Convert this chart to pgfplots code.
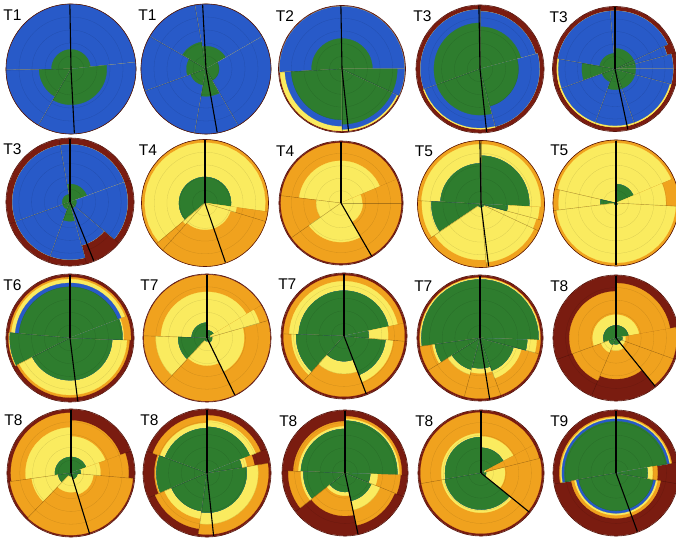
\documentclass[border=0pt]{standalone}
\usepackage{pgfplots}
\pgfplotsset{compat=1.18}
\usepgfplotslibrary{polar}
\usepackage{fontspec}
\setmainfont{Liberation Sans}
\definecolor{cG}{RGB}{46,125,46}
\definecolor{cB}{RGB}{40,90,200}
\definecolor{cY}{RGB}{250,235,95}
\definecolor{cO}{RGB}{240,162,30}
\definecolor{cR}{RGB}{122,28,16}
\newcommand\wdg[4]{\addplot[draw=#4,line width=0.25pt,fill=#4,domain=#1:#2,samples=25] {#3} -- (axis cs:0,0) -- cycle;}
\newcommand\sect[6]{\wdg{#1}{#2}{#6}{cO}\wdg{#1}{#2}{#5}{cY}\wdg{#1}{#2}{#4}{cB}\wdg{#1}{#2}{#3}{cG}%
\addplot[black,opacity=0.28,line width=0.4pt] coordinates {(#1,0) (#1,1)};}
\newcommand\hand[1]{\addplot[black,line width=1.1pt] coordinates {(#1,0) (#1,0.99)};}
\pgfplotsset{rosestyle/.style={anchor=center, scale only axis, xmin=0,xmax=360,ymin=0,ymax=1,
  xtick=\empty, ytick={0.2,0.4,0.6,0.8}, yticklabels={}, ymajorgrids, major tick length=0,
  major grid style={black,opacity=0.12,line width=0.3pt}, axis on top,
  separate axis lines,
  x axis line style={draw=cR!70!black,line width=0.6pt},
  y axis line style={draw=none}, clip=false}}
\newcommand\rose[5]{%
\begin{polaraxis}[rosestyle, at={(#1pt,540pt-#2pt)}, width=#3pt, height=#3pt]
\wdg{0}{360}{1}{cR}
#5
\node[font=\fontsize{15.5}{18}\selectfont] at (axis description cs:0.05,0.915) {#4};
\end{polaraxis}}
\begin{document}
\begin{tikzpicture}
\useasboundingbox (0,0) rectangle (676pt,540pt);
% ---------- row 1
\rose{71}{69}{130}{T1}{%
\sect{6}{181}{.30}{1}{1}{1}
\sect{181}{240}{.49}{1}{1}{1}
\sect{240}{366}{.55}{1}{1}{1}
\hand{91}\hand{273}}
\rose{206}{69}{130}{T1}{%
\sect{30}{100}{.35}{1}{1}{1}
\sect{100}{150}{.42}{1}{1}{1}
\sect{150}{200}{.30}{1}{1}{1}
\sect{200}{260}{.25}{1}{1}{1}
\sect{260}{300}{.42}{1}{1}{1}
\sect{300}{390}{.20}{1}{1}{1}
\hand{93}\hand{280}}
\rose{342}{69}{127}{T2}{%
\sect{0}{183}{.48}{.985}{.985}{.985}
\sect{183}{270}{.80}{.90}{.975}{.975}
\sect{270}{335}{.87}{.95}{.975}{.975}
\sect{335}{360}{.87}{.985}{.985}{.985}
\hand{91}\hand{276}}
\rose{480}{69}{128}{T3}{%
\sect{15}{90}{.66}{.90}{.90}{.90}
\sect{90}{200}{.72}{.93}{.93}{.93}
\sect{200}{285}{.72}{.92}{.94}{.94}
\sect{285}{375}{.60}{.93}{.93}{.93}
\hand{91}\hand{276}}
\rose{615}{69}{125}{T3}{%
\sect{0}{15}{.33}{.93}{.93}{.93}
\sect{15}{25}{.33}{.86}{.86}{.86}
\sect{25}{95}{.33}{.93}{.93}{.93}
\sect{95}{170}{.25}{.93}{.93}{.93}
\sect{170}{200}{.53}{.905}{.93}{.93}
\sect{200}{250}{.22}{.905}{.93}{.93}
\sect{250}{290}{.33}{.905}{.93}{.93}
\sect{290}{345}{.33}{.905}{.93}{.93}
\sect{345}{360}{.33}{.93}{.93}{.93}
\hand{90}\hand{282}}
% ---------- row 2
\rose{70}{202}{128}{T3}{%
\sect{20}{100}{.28}{.90}{.90}{.90}
\sect{100}{200}{.12}{.90}{.90}{.90}
\sect{200}{250}{.12}{.90}{.90}{.90}
\sect{250}{285}{.30}{.90}{.90}{.90}
\sect{285}{320}{.10}{.70}{.70}{.70}
\sect{320}{380}{.10}{.90}{.90}{.90}
\hand{90}\hand{292}}
\rose{205}{203}{127}{T4}{%
\sect{-8}{220}{.41}{.41}{.95}{1}
\sect{220}{228}{0}{0}{.45}{1}
\sect{228}{343}{0}{0}{.42}{1}
\sect{343}{352}{0}{0}{.50}{1}
\hand{90}\hand{289}}
\rose{341}{203}{124}{T4}{%
\sect{23}{173}{0}{0}{.68}{.97}
\sect{173}{215}{0}{0}{.40}{.97}
\sect{215}{300}{0}{0}{.63}{.97}
\sect{300}{360}{0}{0}{.35}{.97}
\sect{0}{23}{0}{0}{.34}{.97}
\hand{90}\hand{300}}
\rose{481}{204}{127}{T5}{%
\sect{-3}{90}{.76}{.76}{.94}{1}
\sect{90}{177}{.64}{.64}{.94}{1}
\sect{177}{214}{.78}{.78}{.93}{1}
\sect{214}{275}{.05}{.05}{.88}{1}
\sect{275}{335}{.05}{.05}{.92}{1}
\sect{335}{345}{.05}{.05}{.90}{1}
\sect{345}{357}{.42}{.42}{.92}{1}
\hand{91}\hand{277}}
\rose{616}{203}{126}{T5}{%
\sect{23}{90}{.30}{.30}{.95}{1}
\sect{90}{167}{0}{0}{.95}{1}
\sect{167}{187}{.25}{.25}{.91}{1}
\sect{187}{357}{.03}{.03}{.95}{1}
\sect{357}{383}{0}{0}{.79}{1}
\hand{90}\hand{270}}
% ---------- row 3
\rose{70}{338}{128}{T6}{%
\sect{21}{175}{.80}{.86}{.92}{.95}
\sect{175}{207}{.94}{.94}{.95}{.96}
\sect{207}{358}{.66}{.66}{.89}{.93}
\sect{358}{381}{.82}{.82}{.84}{.95}
\hand{90}\hand{277}}
\rose{207}{338}{128}{T7}{%
\sect{31}{90}{.12}{.12}{.72}{.985}
\sect{90}{178}{.24}{.24}{.72}{.985}
\sect{178}{227}{.45}{.45}{.80}{.985}
\sect{227}{296}{.05}{.05}{.43}{.985}
\sect{296}{376}{.08}{.08}{.58}{.985}
\sect{16}{31}{.05}{.05}{.85}{.985}
\hand{90}\hand{296}}
\rose{344}{336}{126}{T7}{%
\sect{12}{178}{.72}{.72}{.87}{.96}
\sect{178}{228}{.76}{.76}{.83}{.96}
\sect{228}{291}{.40}{.40}{.60}{.96}
\sect{291}{355}{.66}{.66}{.78}{.96}
\sect{355}{372}{.39}{.39}{.70}{.96}
\hand{90}\hand{291}}
\rose{480}{338}{126}{T7}{%
\sect{-2}{188}{.93}{.93}{.95}{.96}
\sect{188}{212}{.72}{.72}{.76}{.96}
\sect{212}{255}{.52}{.52}{.60}{.96}
\sect{255}{290}{.48}{.48}{.56}{.96}
\sect{290}{345}{.55}{.55}{.68}{.96}
\sect{345}{358}{.75}{.75}{.90}{.96}
\hand{90}\hand{279}}
\rose{616}{338}{126}{T8}{%
\sect{10}{90}{.20}{.20}{.37}{.87}
\sect{90}{200}{.20}{.20}{.37}{.74}
\sect{200}{247}{.12}{.12}{.25}{.73}
\sect{247}{309}{.10}{.10}{.20}{.65}
\sect{309}{340}{.08}{.08}{.15}{.96}
\sect{340}{370}{.10}{.10}{.15}{.96}
\hand{90}\hand{309}}
% ---------- row 4
\rose{71}{473}{128}{T8}{%
\sect{20}{90}{.25}{.25}{.57}{.82}
\sect{90}{188}{.25}{.25}{.71}{.94}
\sect{188}{226}{.20}{.20}{.62}{.96}
\sect{226}{287}{.05}{.05}{.30}{.97}
\sect{287}{355}{.10}{.10}{.35}{.97}
\sect{355}{380}{.15}{.15}{.46}{.90}
\hand{90}\hand{287}}
\rose{207}{473}{128}{T8}{%
\sect{22}{90}{.72}{.72}{.82}{.90}
\sect{90}{160}{.70}{.70}{.78}{.90}
\sect{160}{203}{.79}{.79}{.80}{.82}
\sect{203}{262}{.60}{.60}{.72}{.88}
\sect{262}{369}{.62}{.62}{.80}{.96}
\sect{9}{22}{.55}{.55}{.63}{.75}
\hand{90}\hand{276}}
\rose{345}{473}{126}{T8}{%
\sect{-2}{90}{.83}{.83}{.86}{.90}
\sect{90}{178}{.70}{.70}{.74}{.82}
\sect{178}{218}{.66}{.66}{.70}{.90}
\sect{218}{282}{.30}{.30}{.36}{.68}
\sect{282}{338}{.45}{.45}{.60}{.85}
\sect{338}{358}{.40}{.40}{.52}{.88}
\hand{90}\hand{282}}
\rose{481}{473}{126}{T8}{%
\sect{28}{90}{.40}{.40}{.58}{.95}
\sect{90}{190}{.57}{.57}{.63}{.96}
\sect{190}{321}{.58}{.58}{.63}{.96}
\sect{321}{374}{.08}{.08}{.38}{.96}
\sect{14}{28}{.05}{.05}{.08}{.95}
\hand{90}\hand{321}}
\rose{616}{473}{126}{T9}{%
\sect{10}{190}{.82}{.86}{.88}{.90}
\sect{190}{350}{.60}{.64}{.67}{.72}
\sect{350}{370}{.50}{.50}{.58}{.66}
\hand{90}\hand{290}}
\end{tikzpicture}
\end{document}
